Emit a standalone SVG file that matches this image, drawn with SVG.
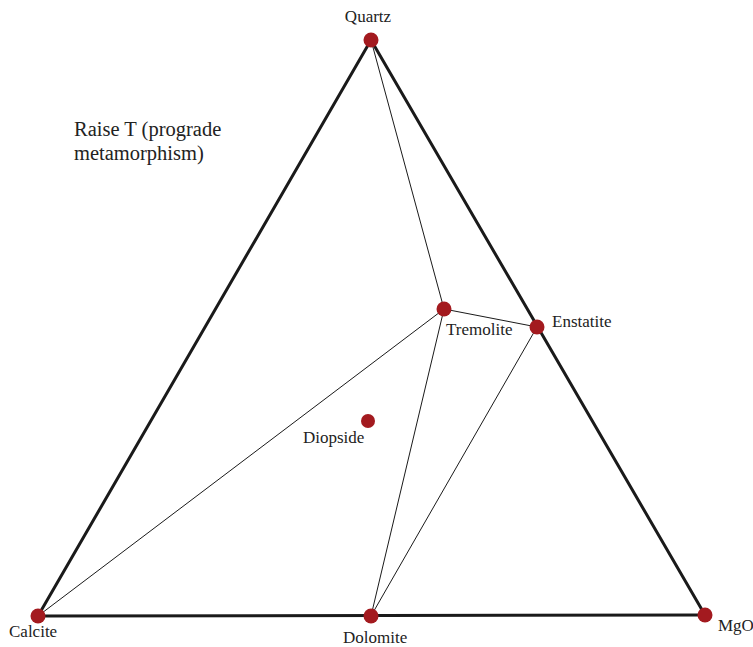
<svg xmlns="http://www.w3.org/2000/svg" width="753" height="647" viewBox="0 0 753 647">
<style>
.thick{stroke:#1a1a1a;stroke-width:3;fill:none;stroke-linecap:round}
.thin{stroke:#1a1a1a;stroke-width:1;fill:none}
.dot{fill:#a31a1f}
.lbl{font-family:"Liberation Serif",serif;font-size:17px;fill:#222}
.note{font-family:"Liberation Serif",serif;font-size:20.5px;fill:#222}
</style>
<rect width="753" height="647" fill="#fff"/>
<g id="connectors">
<line class="thin" x1="371" y1="40" x2="444" y2="309"/>
<line class="thin" x1="444" y1="309" x2="537" y2="327"/>
<line class="thin" x1="444" y1="309" x2="38" y2="616"/>
<line class="thin" x1="444" y1="309" x2="371" y2="616"/>
<line class="thin" x1="537" y1="327" x2="371" y2="616"/>
<line class="thick" x1="371" y1="40" x2="38" y2="616"/>
<line class="thick" x1="371" y1="40" x2="705" y2="615"/>
<line class="thick" x1="38" y1="616" x2="705" y2="615"/>
</g>
<g id="quartz"><circle class="dot" cx="371" cy="40" r="7.5"/><text class="lbl" x="368" y="22" text-anchor="middle">Quartz</text></g>
<g id="tremolite"><circle class="dot" cx="444" cy="309" r="7.5"/><text class="lbl" x="446" y="335">Tremolite</text></g>
<g id="enstatite"><circle class="dot" cx="537" cy="327" r="7.5"/><text class="lbl" x="552" y="327">Enstatite</text></g>
<g id="diopside"><circle class="dot" cx="368" cy="421" r="7"/><text class="lbl" x="303" y="443">Diopside</text></g>
<g id="calcite"><circle class="dot" cx="38" cy="616" r="7.5"/><text class="lbl" x="9" y="637">Calcite</text></g>
<g id="dolomite"><circle class="dot" cx="371" cy="616" r="7.5"/><text class="lbl" x="343" y="643">Dolomite</text></g>
<g id="mgo"><circle class="dot" cx="705" cy="615" r="7.5"/><text class="lbl" x="718" y="631">MgO</text></g>
<g id="note"><text class="note" x="74" y="136">Raise T (prograde</text><text class="note" x="74" y="160">metamorphism)</text></g>
</svg>
